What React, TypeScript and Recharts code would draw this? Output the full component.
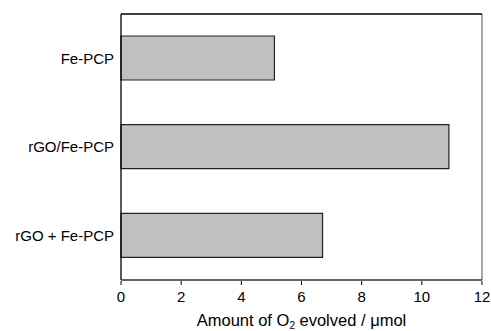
import { BarChart, Bar, XAxis, YAxis } from "recharts"

const samples = ["Fe-PCP", "rGO/Fe-PCP", "rGO + Fe-PCP"]
const oxygen = [5.1, 10.9, 6.7]
const majorTicks = [0, 2, 4, 6, 8, 10, 12]
const minorTicks = [0, 1, 2, 3, 4, 5, 6, 7, 8, 9, 10, 11, 12]
const sideTicks = [0, 1, 2, 3, 4, 5, 6, 7, 8, 9, 10, 11, 12]

const data = samples.map((name, i) => ({ name, value: oxygen[i] }))

const font = "'Liberation Sans', Arial, sans-serif"

function AxisTitle(props: any) {
    const { viewBox } = props
    const cx = viewBox.x + viewBox.width / 2
    return (
        <text x={cx} y={viewBox.y + 45} textAnchor="middle" fontSize={16.5} fontFamily={font} fill="#000">
            Amount of O<tspan fontSize={10} dy={3}>2</tspan>
            <tspan dy={-3}> evolved / μmol</tspan>
        </text>
    )
}

export default function App() {
    return (
        <div style={{ position: "absolute", left: 0, top: 0, background: "#fff" }}>
            <BarChart
                width={491}
                height={331}
                data={data}
                layout="vertical"
                margin={{ top: 14, right: 0, bottom: 0, left: 0 }}
                barSize={44}
            >
                <YAxis
                    yAxisId="b"
                    type="category"
                    dataKey="name"
                    width={120}
                    axisLine={false}
                    tickLine={false}
                    tickSize={0}
                    tickMargin={6}
                    tick={{ fontSize: 15, fontFamily: font, fill: "#000" }}
                />
                {/* minor ticks along the left spine */}
                <YAxis
                    yAxisId="a"
                    type="number"
                    orientation="left"
                    domain={[0, 12]}
                    ticks={sideTicks}
                    width={1}
                    tick={false}
                    tickSize={3}
                    axisLine={{ stroke: "#000", strokeWidth: 1.3 }}
                    tickLine={{ stroke: "#000" }}
                />
                <YAxis
                    yAxisId="right"
                    type="number"
                    orientation="right"
                    domain={[0, 12]}
                    ticks={sideTicks}
                    width={9}
                    tick={false}
                    tickSize={3}
                    axisLine={{ stroke: "#888", strokeWidth: 1.5 }}
                    tickLine={{ stroke: "#000" }}
                />
                <XAxis
                    xAxisId="top"
                    type="number"
                    orientation="top"
                    domain={[0, 12]}
                    ticks={minorTicks}
                    mirror
                    tick={false}
                    tickSize={2}
                    axisLine={{ stroke: "#000", strokeWidth: 1.3 }}
                    tickLine={{ stroke: "#000" }}
                />
                <XAxis
                    xAxisId="b"
                    type="number"
                    domain={[0, 12]}
                    ticks={majorTicks}
                    height={50}
                    axisLine={false}
                    tickSize={4}
                    tickMargin={6}
                    tickLine={{ stroke: "#000" }}
                    tick={{ fontSize: 15, fontFamily: font, fill: "#000" }}
                    label={<AxisTitle />}
                />
                {/* minor ticks along the bottom spine */}
                <XAxis
                    xAxisId="a"
                    type="number"
                    domain={[0, 12]}
                    ticks={minorTicks}
                    height={1}
                    tick={false}
                    tickSize={3}
                    axisLine={{ stroke: "#333", strokeWidth: 1.3 }}
                    tickLine={{ stroke: "#000" }}
                />
                <Bar
                    dataKey="value"
                    xAxisId="b"
                    yAxisId="b"
                    fill="#c0c0c0"
                    stroke="#222"
                    strokeWidth={1.2}
                    isAnimationActive={false}
                />
            </BarChart>
        </div>
    )
}
